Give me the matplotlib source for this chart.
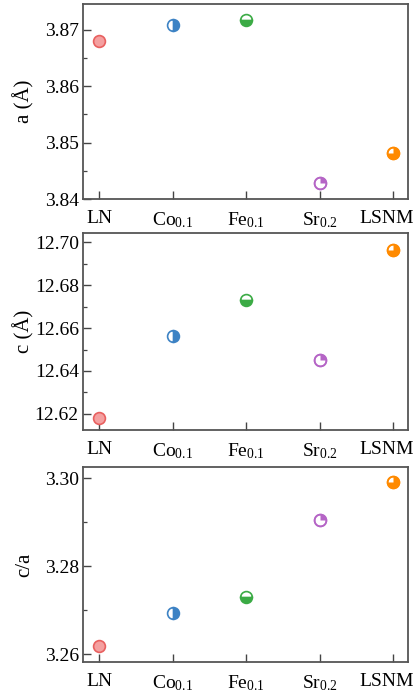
import matplotlib
matplotlib.use("Agg")
import matplotlib.pyplot as plt
from matplotlib.path import Path
from matplotlib.ticker import MultipleLocator
from matplotlib.transforms import ScaledTranslation
import numpy as np

plt.rcParams['font.family'] = ['Liberation Serif', 'DejaVu Serif']
plt.rcParams['mathtext.fontset'] = 'custom'
plt.rcParams['mathtext.rm'] = 'Liberation Serif'
plt.rcParams['mathtext.it'] = 'Liberation Serif:italic'

categories = ['LN', 'Co$_{0.1}$', 'Fe$_{0.1}$', 'Sr$_{0.2}$', 'LSNM']
a_vals = [3.8681, 3.8709, 3.8718, 3.8428, 3.8482]
c_vals = [12.6183, 12.6565, 12.6732, 12.6450, 12.6962]
ca_vals = [3.2619, 3.2693, 3.2729, 3.2906, 3.2992]

colors = ['#e8605f', '#3c82c4', '#3bab45', '#b565c6', '#ff8a00']
ln_face = '#f4a0a0'
ms = 8.5

quarter = Path.wedge(0, 90)
three_q = Path.wedge(180, 450)


def draw_markers(ax, vals):
    x = np.arange(len(vals))
    ax.plot(x[0], vals[0], 'o', ms=ms, mfc=ln_face, mec=colors[0], mew=1.2, zorder=3)
    ax.plot(x[1], vals[1], 'o', ms=ms, mfc=colors[1], mfcalt='white',
            fillstyle='right', mec=colors[1], mew=1.2, zorder=3)
    ax.plot(x[2], vals[2], 'o', ms=ms, mfc=colors[2], mfcalt='white',
            fillstyle='bottom', mec=colors[2], mew=1.2, zorder=3)
    ax.plot(x[3], vals[3], 'o', ms=ms, mfc='white', mec=colors[3], mew=1.2, zorder=3)
    ax.plot(x[3], vals[3], marker=quarter, ms=ms, mfc=colors[3], mec='none', ls='none', zorder=4)
    ax.plot(x[3], vals[3], 'o', ms=ms, mfc='none', mec=colors[3], mew=1.2, zorder=5)
    ax.plot(x[4], vals[4], 'o', ms=ms, mfc='white', mec=colors[4], mew=1.2, zorder=3)
    ax.plot(x[4], vals[4], marker=three_q, ms=ms, mfc=colors[4], mec='none', ls='none', zorder=4)
    ax.plot(x[4], vals[4], 'o', ms=ms, mfc='none', mec=colors[4], mew=1.2, zorder=5)


fig = plt.figure(figsize=(4.19, 6.92), dpi=100)
boxes = [(0.198, 0.7124, 0.776, 0.2818),
         (0.198, 0.3786, 0.776, 0.2847),
         (0.198, 0.0434, 0.776, 0.2817)]
panels = [
    (a_vals, 'a (Å)', (3.8400, 3.8746), [3.84, 3.85, 3.86, 3.87], 0.005, '%.2f'),
    (c_vals, 'c (Å)', (12.6125, 12.7043), [12.62, 12.64, 12.66, 12.68, 12.70], 0.01, '%.2f'),
    (ca_vals, 'c/a', (3.2582, 3.3026), [3.26, 3.28, 3.30], 0.01, '%.2f'),
]

for box, (vals, ylabel, ylim, yticks, minor, fmt) in zip(boxes, panels):
    ax = fig.add_axes(box)
    draw_markers(ax, vals)
    ax.set_xlim(-0.22, 4.2)
    ax.set_ylim(*ylim)
    ax.set_xticks(np.arange(len(categories)))
    ax.set_xticklabels(categories)
    ax.set_yticks(yticks)
    ax.set_yticklabels([fmt % v for v in yticks])
    ax.yaxis.set_minor_locator(MultipleLocator(minor))
    ax.tick_params(axis='both', which='major', direction='in', length=6, width=1.0,
                   labelsize=14, color='#444444', top=False, right=False)
    ax.tick_params(axis='y', which='minor', direction='in', length=3, width=0.9,
                   color='#444444', right=False)
    ax.tick_params(axis='x', pad=8, labelsize=14)
    ax.tick_params(axis='y', pad=3)
    last = ax.get_xticklabels()[-1]
    last.set_transform(last.get_transform() + ScaledTranslation(-5 / 72, 0, fig.dpi_scale_trans))
    for s in ax.spines.values():
        s.set_linewidth(1.3)
        s.set_color('#555555')
    ax.set_ylabel(ylabel, fontsize=15)
    ax.yaxis.set_label_coords(-0.15, 0.5)

fig.savefig('out.png', dpi=100)
